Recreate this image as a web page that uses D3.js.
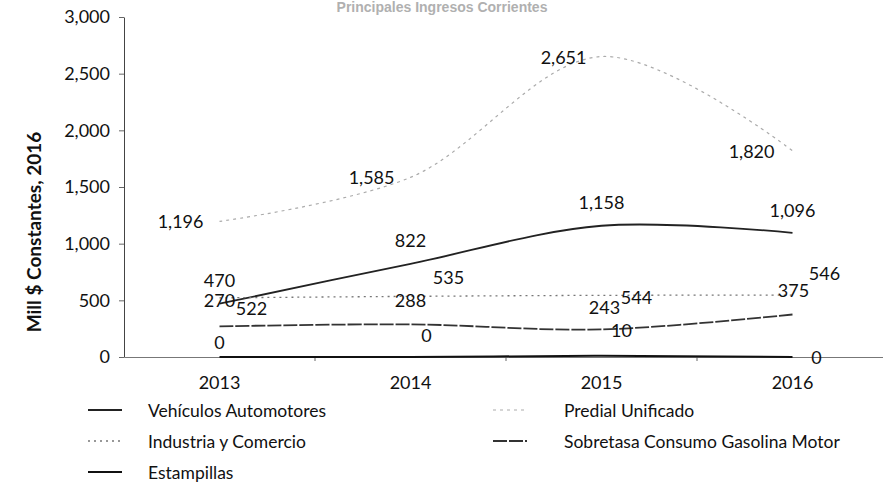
<!DOCTYPE html>
<html>
<head>
<meta charset="utf-8">
<script src="https://cdn.jsdelivr.net/npm/d3@7"></script>
<style>
  html, body { margin: 0; padding: 0; background: #fff; }
  svg { display: block; }
  text { font-family: Lato, "Open Sans", sans-serif; fill: #111; }
</style>
</head>
<body>
<svg id="chart" width="883" height="488"></svg>
<script>
// Categories and series (Mill $ constantes, 2016)
const years = ["2013", "2014", "2015", "2016"];
const vehiculos = [470, 822, 1158, 1096];
const predial = [1196, 1585, 2651, 1820];
const industria = [522, 535, 544, 546];
const sobretasa = [270, 288, 243, 375];
const estampillas = [0, 0, 10, 0];
const yTicks = [0, 500, 1000, 1500, 2000, 2500, 3000];

const chartTitle = "Principales Ingresos Corrientes";
const yTitle = "Mill $ Constantes, 2016";

// Series styling and data-label placement (label centre relative to the point)
const series = [
  { name: "Vehículos Automotores", values: vehiculos, stroke: "#222", width: 1.8, dash: null,
    labels: [[0, -24], [0, -24], [0, -24], [0, -23]] },
  { name: "Predial Unificado", values: predial, stroke: "#ababab", width: 1.2, dash: "3,4",
    anchor: "end", labels: [[-16, 0], [-16, 0], [-15, 0], [-18, 0]] },
  { name: "Industria y Comercio", values: industria, stroke: "#777", width: 1.3, dash: "2,4",
    labels: [[32, 10], [38, -19], [35, 2], [32, -22]] },
  { name: "Sobretasa Consumo Gasolina Motor", values: sobretasa, stroke: "#333", width: 1.8, dash: "14,2",
    labels: [[0, -26], [0, -24], [3, -22], [1, -25]] },
  { name: "Estampillas", values: estampillas, stroke: "#111", width: 2, dash: null,
    labels: [[0, -15], [16, -22], [20, -26], [24, 0]] }
];

const svg = d3.select("#chart");
const fmt = d3.format(",");

const plotLeft = 124, plotRight = 888, plotTop = 17, plotBottom = 357;

const x = d3.scaleBand().domain(years).range([plotLeft, plotRight]).padding(0);
const cx = d => x(d) + x.bandwidth() / 2;
const y = d3.scaleLinear().domain([0, 3000]).range([plotBottom, plotTop]);

// Title
svg.append("text")
  .attr("x", 442).attr("y", 12)
  .attr("text-anchor", "middle")
  .style("font-family", "'Liberation Sans', Arial, sans-serif")
  .style("font-weight", "bold").style("font-size", "14px")
  .style("fill", "#b0b0b0")
  .text(chartTitle);

// Y axis
const yAxis = svg.append("g")
  .attr("transform", `translate(${plotLeft},0)`)
  .call(d3.axisLeft(y).tickValues(yTicks).tickFormat(fmt).tickSize(5).tickSizeOuter(0).tickPadding(9));
yAxis.select(".domain").attr("stroke", "#444");
yAxis.selectAll(".tick line").attr("stroke", "#666");
yAxis.selectAll(".tick text").style("font-size", "18px").style("font-family", "Lato, sans-serif").attr("fill", "#111");

// Y axis title
svg.append("text")
  .attr("transform", `translate(41,232) rotate(-90)`)
  .attr("text-anchor", "middle")
  .style("font-weight", "bold").style("font-size", "19px")
  .text(yTitle);

// X axis: line, boundary ticks between categories, labels at centres
const xAxis = svg.append("g")
  .attr("transform", `translate(0,${plotBottom})`)
  .call(d3.axisBottom(x).tickSize(0).tickPadding(19).tickSizeOuter(0));
xAxis.select(".domain").attr("stroke", "#777");
xAxis.selectAll(".tick text").style("font-size", "18px").style("font-family", "Lato, sans-serif").attr("fill", "#111");
svg.append("g").selectAll("line")
  .data(years.slice(1))
  .join("line")
  .attr("x1", d => x(d)).attr("x2", d => x(d))
  .attr("y1", plotBottom).attr("y2", plotBottom + 4)
  .attr("stroke", "#666");

// Lines
const line = d3.line()
  .x((d, i) => cx(years[i]))
  .y(d => y(d))
  .curve(d3.curveCatmullRom.alpha(0.5));

const lines = svg.append("g");
series.forEach(s => {
  lines.append("path")
    .datum(s.values)
    .attr("d", line)
    .attr("fill", "none")
    .attr("stroke", s.stroke)
    .attr("stroke-width", s.width)
    .attr("stroke-dasharray", s.dash);
});

// Data labels
const labels = svg.append("g");
series.forEach(s => {
  labels.selectAll(null)
    .data(s.values)
    .join("text")
    .attr("x", (d, i) => cx(years[i]) + s.labels[i][0])
    .attr("y", (d, i) => y(d) + s.labels[i][1])
    .attr("text-anchor", s.anchor || "middle")
    .attr("dominant-baseline", "central")
    .style("font-size", "18px")
    .text(d => fmt(d));
});

// Legend
const legendCols = [{ lx: 88, tx: 148 }, { lx: 493, tx: 564 }];
const legendRows = [410, 441, 472];
const legend = svg.append("g");
series.forEach((s, i) => {
  const col = legendCols[i % 2];
  const rowY = legendRows[Math.floor(i / 2)];
  legend.append("line")
    .attr("x1", col.lx).attr("x2", col.lx + 34)
    .attr("y1", rowY).attr("y2", rowY)
    .attr("stroke", s.stroke)
    .attr("stroke-width", s.width)
    .attr("stroke-dasharray", s.dash);
  legend.append("text")
    .attr("x", col.tx).attr("y", rowY)
    .attr("dominant-baseline", "central")
    .style("font-size", "17.5px")
    .text(s.name);
});
</script>
</body>
</html>
